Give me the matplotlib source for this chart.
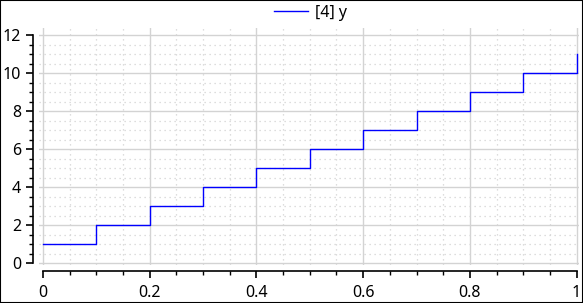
import matplotlib
matplotlib.use("Agg")
import matplotlib.pyplot as plt
from matplotlib.ticker import MultipleLocator, FuncFormatter
from matplotlib.patches import Rectangle

# data
x_edges = [0.0, 0.1, 0.2, 0.3, 0.4, 0.5, 0.6, 0.7, 0.8, 0.9, 1.0]
y_values = [1, 2, 3, 4, 5, 6, 7, 8, 9, 10, 11]
series_label = "[4] y"

plt.rcParams['font.family'] = ['Noto Sans', 'DejaVu Sans']

W, H = 583, 303
fig = plt.figure(figsize=(W / 100, H / 100), dpi=100)
left, right, top, bottom = 39, 579, 28, 265
ax = fig.add_axes([left / W, 1 - bottom / H, (right - left) / W, (bottom - top) / H])

ax.step(x_edges, y_values, where='post', color='#0000ff', lw=1.0, label=series_label)

ax.set_xlim(-0.0075, 1.0045)
ax.set_ylim(-0.1, 12.37)

ax.xaxis.set_major_locator(MultipleLocator(0.2))
ax.xaxis.set_minor_locator(MultipleLocator(0.05))
ax.yaxis.set_major_locator(MultipleLocator(2))
ax.yaxis.set_minor_locator(MultipleLocator(0.5))
ax.xaxis.set_major_formatter(FuncFormatter(lambda v, p: ('%g' % round(v, 6))))
ax.yaxis.set_major_formatter(FuncFormatter(lambda v, p: ('%g' % round(v, 6))))

ax.grid(True, which='major', color='#d3d3d3', lw=1.0, ls='-')
ax.grid(True, which='minor', color='#d3d3d3', lw=0.9, ls=(0, (1, 3)))
ax.set_axisbelow(True)

for s in ['top', 'right']:
    ax.spines[s].set_visible(False)
ax.spines['left'].set_position(('outward', 4))
ax.spines['bottom'].set_position(('outward', 4.3))
ax.spines['left'].set_bounds(0, 12)
ax.spines['bottom'].set_bounds(0, 1)
ax.spines['left'].set_linewidth(1.2)
ax.spines['bottom'].set_linewidth(1.2)

ax.tick_params(which='major', length=5, width=1.2, labelsize=11.5, pad=4, color='black')
ax.tick_params(which='minor', length=3, width=1.0, color='black')
ax.tick_params(axis='x', which='major', pad=5)

leg = fig.legend(loc='upper center', bbox_to_anchor=(0.5326, 1.032), frameon=False,
                 fontsize=11.5, handlelength=2.15, handletextpad=0.45)

fig.patches.append(Rectangle((0, 0), 1, 1, transform=fig.transFigure, fill=False,
                             edgecolor='black', lw=1.5))

fig.savefig("out.png", dpi=100)
